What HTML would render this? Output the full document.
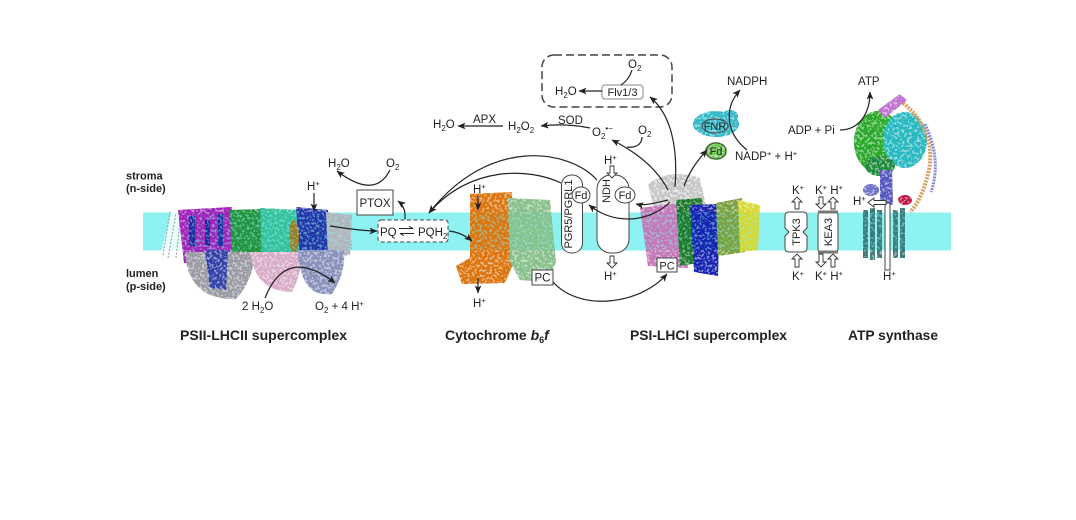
<!DOCTYPE html>
<html>
<head>
<meta charset="utf-8">
<style>
html,body{margin:0;padding:0;background:#fff;}
svg{display:block;}
text{font-family:"Liberation Sans",Arial,sans-serif;fill:#222;}
</style>
</head>
<body>
<svg width="1076" height="520" viewBox="0 0 1076 520" xmlns="http://www.w3.org/2000/svg">
<defs>
  <marker id="ah" markerWidth="9" markerHeight="8" refX="7.5" refY="4" orient="auto" markerUnits="userSpaceOnUse">
    <path d="M0,0.6 L8,4 L0,7.4 L2,4 Z" fill="#222"/>
  </marker>
  <filter id="tx">
    <feTurbulence type="fractalNoise" baseFrequency="0.4" numOctaves="2" seed="7" result="n"/>
    <feColorMatrix in="n" type="matrix" values="0 0 0 0 0  0 0 0 0 0  0 0 0 0 0  9 0 0 0 -3.4" result="m"/>
    <feComposite in="SourceGraphic" in2="m" operator="in"/>
  </filter>

  <!-- PSII-LHCII -->
  <g id="psii">
    <path d="M178,210 L232,207 L234,259 L184,263 Z" fill="#a020b8"/>
    <path d="M230,210 L262,209 L262,258 L232,262 Z" fill="#22923c"/>
    <path d="M260,208 L300,210 L300,256 L262,258 Z" fill="#34c09c"/>
    <path d="M296,207 L328,210 L330,258 L300,261 Z" fill="#2434a8"/>
    <path d="M326,212 L352,215 L350,255 L328,258 Z" fill="#b4b4bc"/>
    <path d="M185,252 Q188,300 236,299 Q252,282 256,252 Z" fill="#9a9aa4"/>
    <path d="M205,250 L228,250 L226,290 L210,288 Z" fill="#3040a8"/>
    <path d="M250,252 Q255,292 292,292 Q302,272 302,252 Z" fill="#d8acc8"/>
    <path d="M298,250 Q300,298 332,294 Q346,272 344,250 Z" fill="#8890bc"/>
    <rect x="189" y="216" width="6" height="30" fill="#1a2aa0"/>
    <rect x="205" y="220" width="5" height="26" fill="#1a2aa0"/>
    <rect x="218" y="214" width="5" height="32" fill="#1a2aa0"/>
    <ellipse cx="294" cy="236" rx="5" ry="16" fill="#9a7a20"/>
  </g>

  <!-- Cyt b6f -->
  <g id="cyt">
    <path d="M470,194 L512,192 L514,262 L505,283 L462,284 L456,266 L470,258 Z" fill="#dc7410"/>
    <path d="M508,198 L550,200 L556,262 L548,282 L520,280 L510,262 Z" fill="#88c08c"/>
  </g>

  <!-- PSI-LHCI -->
  <g id="psi">
    <path d="M640,208 L686,202 L688,268 L648,266 Z" fill="#c478b8"/>
    <path d="M676,200 L702,198 L704,262 L680,266 Z" fill="#1c7a2c"/>
    <path d="M690,205 L720,204 L718,276 L694,272 Z" fill="#1424b0"/>
    <path d="M716,203 L742,198 L745,252 L718,256 Z" fill="#7aa040"/>
    <path d="M738,200 L760,205 L758,250 L740,252 Z" fill="#d8d830"/>
  </g>
  <g id="psitop">
    <path d="M648,184 Q670,168 700,178 L706,206 L654,210 Z" fill="#bdbdbd"/>
  </g>

  <!-- FNR/Fd -->
  <g id="fnr">
    <ellipse cx="716" cy="124" rx="23" ry="13" fill="#30b8c8"/>
    <ellipse cx="730" cy="116" rx="8" ry="6" fill="#30b8c8"/>
    <ellipse cx="716" cy="151" rx="11" ry="9" fill="#6cc850"/>
  </g>

  <!-- ATP synthase -->
  <g id="atp">
    <ellipse cx="878" cy="142" rx="24" ry="31" fill="#2aa82a"/>
    <ellipse cx="905" cy="140" rx="22" ry="28" fill="#28b8c0"/>
    <ellipse cx="880" cy="166" rx="15" ry="10" fill="#1e8a3a"/>
    <path d="M880,170 L892,170 L893,205 L880,205 Z" fill="#5858c0"/>
    <path d="M878,110 L900,94 L907,100 L885,118 Z" fill="#c070d0"/>
    <ellipse cx="871" cy="190" rx="8" ry="6" fill="#7070c8"/>
    <ellipse cx="905" cy="200" rx="7" ry="5" fill="#c01840"/>
  </g>
  <g id="cring" fill="#3a7a7a">
    <rect x="863" y="210" width="5" height="48"/>
    <rect x="870" y="208" width="5" height="52"/>
    <rect x="877" y="210" width="5" height="48"/>
    <rect x="893" y="210" width="5" height="48"/>
    <rect x="900" y="208" width="5" height="50"/>
  </g>
</defs>

<!-- membrane -->
<rect x="143" y="212.5" width="808" height="38" fill="#8ff2f2"/>

<!-- PSII ghost helices -->
<path d="M160,256 L172,210 L186,210 L183,262 Z" fill="#fff" opacity="0.8"/>
<g stroke="#999" stroke-width="1" fill="none" stroke-dasharray="2 1.5">
  <path d="M163,255 L170,212"/><path d="M168,258 L176,213"/><path d="M176,258 L181,214"/>
  <path d="M340,214 L346,254"/><path d="M347,216 L352,250"/>
</g>

<!-- proteins: base + speckle -->
<use href="#psii" opacity="0.5"/><use href="#psii" filter="url(#tx)"/>
<use href="#cyt" opacity="0.5"/><use href="#cyt" filter="url(#tx)"/>
<use href="#psitop" opacity="0.3"/><use href="#psitop" filter="url(#tx)" opacity="0.8"/>
<use href="#psi" opacity="0.5"/><use href="#psi" filter="url(#tx)"/>
<use href="#fnr" opacity="0.5"/><use href="#fnr" filter="url(#tx)"/>
<use href="#atp" opacity="0.5"/><use href="#atp" filter="url(#tx)"/>
<use href="#cring" opacity="0.5"/><use href="#cring" filter="url(#tx)"/>
<g fill="none">
  <path d="M903,103 Q936,130 929,170 Q922,200 910,212" stroke="#d8a060" stroke-width="4" stroke-dasharray="2 1.2"/>
  <path d="M925,124 Q942,160 931,192" stroke="#8888d8" stroke-width="3" stroke-dasharray="2 1"/>
</g>

<!-- side labels -->
<g font-weight="bold" font-size="11">
  <text x="126" y="179.5">stroma</text>
  <text x="126" y="192">(n-side)</text>
  <text x="126" y="277">lumen</text>
  <text x="126" y="290">(p-side)</text>
</g>

<!-- titles -->
<g font-weight="bold" font-size="14">
  <text x="180" y="340" textLength="167" lengthAdjust="spacingAndGlyphs">PSII-LHCII supercomplex</text>
  <text x="445" y="340">Cytochrome <tspan font-style="italic">b</tspan><tspan font-size="9" dy="3">6</tspan><tspan dy="-3" font-style="italic">f</tspan></text>
  <text x="630" y="340" textLength="157" lengthAdjust="spacingAndGlyphs">PSI-LHCI supercomplex</text>
  <text x="848" y="340" textLength="90" lengthAdjust="spacingAndGlyphs">ATP synthase</text>
</g>

<!-- boxes -->
<g stroke="#444" stroke-width="1" fill="#fff">
  <rect x="357" y="190" width="36" height="25"/>
  <rect x="378" y="220" width="70" height="22" rx="3" stroke-dasharray="4 2.5"/>
  <rect x="532" y="270" width="21" height="15"/>
  <rect x="657" y="258" width="20" height="14"/>
  <rect x="561.5" y="175" width="21" height="78" rx="10"/>
  <rect x="597" y="175" width="32" height="78" rx="14"/>
  <ellipse cx="581" cy="195" rx="9" ry="8"/>
  <ellipse cx="625" cy="195" rx="10" ry="8"/>
  <path d="M789,212 H803 Q807,212 807,216 V228 L803,232 L807,236 V248 Q807,252 803,252 H789 Q785,252 785,248 V236 L789,232 L785,228 V216 Q785,212 789,212 Z"/>
  <rect x="818" y="212" width="20" height="40" rx="3"/>
  <rect x="602" y="85" width="41" height="14" rx="3" stroke="#888"/>
  <rect x="885" y="203" width="5" height="67"/>
</g>
<rect x="818" y="210.5" width="20" height="3" fill="#777"/>
<rect x="818" y="250.5" width="20" height="3" fill="#777"/>
<rect x="542" y="55" width="130" height="52" rx="12" fill="none" stroke="#444" stroke-width="1.5" stroke-dasharray="8 4"/>
<g fill="none" stroke="#444" stroke-width="1">
  <ellipse cx="715" cy="126" rx="13" ry="7"/>
  <ellipse cx="716" cy="151" rx="10" ry="8"/>
</g>

<!-- hollow arrows -->
<g fill="#fff" stroke="#333" stroke-width="0.9">
  <path d="M610,166 H614 V173 H617 L612,178 L607,173 H610 Z"/>
  <path d="M610,256 H614 V263 H617 L612,268 L607,263 H610 Z"/>
  <path d="M795,209 H799 V202 H802 L797,197 L792,202 H795 Z"/>
  <path d="M795,267 H799 V259 H802 L797,254 L792,259 H795 Z"/>
  <path d="M819,197 H823 V204 H826 L821,209 L816,204 H819 Z"/>
  <path d="M831,209 H835 V202 H838 L833,197 L828,202 H831 Z"/>
  <path d="M819,254 H823 V262 H826 L821,267 L816,262 H819 Z"/>
  <path d="M831,267 H835 V259 H838 L833,254 L828,259 H831 Z"/>
  <path d="M886,200.5 L874,200.5 L874,198 L868,202.5 L874,207 L874,204.5 L886,204.5 Z"/>
</g>

<!-- connectors -->
<g fill="none" stroke="#222" stroke-width="1.2">
  <path d="M390,170 Q375,200 337,171" marker-end="url(#ah)"/>
  <path d="M405,219 Q406,207 398,201" marker-end="url(#ah)"/>
  <path d="M314,193 V211" marker-end="url(#ah)"/>
  <path d="M330,226 C345,228 360,231 377,231" marker-end="url(#ah)"/>
  <path d="M449,231 C458,232 466,236 472,241" marker-end="url(#ah)"/>
  <path d="M265,298 Q286,245 335,283" marker-end="url(#ah)"/>
  <path d="M478,196 V210" marker-end="url(#ah)"/>
  <path d="M478,278 V293" marker-end="url(#ah)"/>
  <path d="M597,180 C570,150 490,135 429,213" marker-end="url(#ah)"/>
  <path d="M561,183 C530,168 470,165 429,213" marker-end="url(#ah)"/>
  <path d="M553,282 C580,312 640,305 667,274" marker-end="url(#ah)"/>
  <path d="M668,190 C655,165 632,150 612,140" marker-end="url(#ah)"/>
  <path d="M642,137 C642,146 633,148 627,147"/>
  <path d="M675,187 C678,150 672,115 650,97" marker-end="url(#ah)"/>
  <path d="M684,186 C690,170 698,160 707,150" marker-end="url(#ah)"/>
  <path d="M668,200 C655,203 645,206 636,204" marker-end="url(#ah)"/>
  <path d="M670,202 C650,222 615,226 589,205" marker-end="url(#ah)"/>
  <path d="M747,150 C728,135 722,110 740,90" marker-end="url(#ah)"/>
  <path d="M840,130 C858,130 870,115 870,92" marker-end="url(#ah)"/>
  <path d="M602,91 H579" marker-end="url(#ah)"/>
  <path d="M632,70 Q629,80 621,85"/>
  <path d="M503,126 H458" marker-end="url(#ah)"/>
  <path d="M590,128 Q565,123 541,126" marker-end="url(#ah)"/>
</g>
<g fill="none" stroke="#222" stroke-width="0.9">
  <path d="M399,228.5 H413 L409,226.3"/>
  <path d="M414,233.5 H400 L404,235.7"/>
</g>

<!-- labels -->
<g font-size="11.5">
  <text x="328" y="167">H<tspan dy="3" font-size="8">2</tspan><tspan dy="-3">O</tspan></text>
  <text x="386" y="167">O<tspan dy="3" font-size="8">2</tspan></text>
  <text x="375" y="207" text-anchor="middle">PTOX</text>
  <text x="307" y="190">H<tspan dy="-4" font-size="7.5">+</tspan></text>
  <text x="380" y="236">PQ</text>
  <text x="418" y="236">PQH<tspan dy="3" font-size="8">2</tspan></text>
  <text x="242" y="310">2 H<tspan dy="3" font-size="8">2</tspan><tspan dy="-3">O</tspan></text>
  <text x="315" y="310">O<tspan dy="3" font-size="8">2</tspan><tspan dy="-3"> + 4 H</tspan><tspan dy="-4" font-size="7.5">+</tspan></text>
  <text x="473" y="193">H<tspan dy="-4" font-size="7.5">+</tspan></text>
  <text x="473" y="307">H<tspan dy="-4" font-size="7.5">+</tspan></text>
  <text x="542.5" y="281.5" text-anchor="middle">PC</text>
  <text x="667" y="269.5" text-anchor="middle" font-size="11">PC</text>
  <text transform="translate(572,214) rotate(-90)" text-anchor="middle" font-size="11">PGR5/PGRL1</text>
  <text transform="translate(610,191) rotate(-90)" text-anchor="middle" font-size="11">NDH</text>
  <text x="581" y="199" text-anchor="middle" font-size="11">Fd</text>
  <text x="625" y="199" text-anchor="middle" font-size="11">Fd</text>
  <text x="604" y="164">H<tspan dy="-4" font-size="7.5">+</tspan></text>
  <text x="604" y="280">H<tspan dy="-4" font-size="7.5">+</tspan></text>
  <text x="715" y="130" text-anchor="middle" font-size="11">FNR</text>
  <text x="716" y="155" text-anchor="middle" font-size="11">Fd</text>
  <text x="727" y="85">NADPH</text>
  <text x="735" y="160">NADP<tspan dy="-4" font-size="7.5">+</tspan><tspan dy="4"> + H</tspan><tspan dy="-4" font-size="7.5">+</tspan></text>
  <text x="858" y="85">ATP</text>
  <text x="788" y="134">ADP + Pi</text>
  <text x="792" y="194">K<tspan dy="-4" font-size="7.5">+</tspan></text>
  <text x="792" y="280">K<tspan dy="-4" font-size="7.5">+</tspan></text>
  <text x="815" y="194">K<tspan dy="-4" font-size="7.5">+</tspan><tspan dy="4"> H</tspan><tspan dy="-4" font-size="7.5">+</tspan></text>
  <text x="815" y="280">K<tspan dy="-4" font-size="7.5">+</tspan><tspan dy="4"> H</tspan><tspan dy="-4" font-size="7.5">+</tspan></text>
  <text transform="translate(800,232) rotate(-90)" text-anchor="middle" font-size="11">TPK3</text>
  <text transform="translate(832,232) rotate(-90)" text-anchor="middle" font-size="11">KEA3</text>
  <text x="853" y="205">H<tspan dy="-4" font-size="7.5">+</tspan></text>
  <text x="883" y="280">H<tspan dy="-4" font-size="7.5">+</tspan></text>
  <text x="433" y="128">H<tspan dy="3" font-size="8">2</tspan><tspan dy="-3">O</tspan></text>
  <text x="473" y="123">APX</text>
  <text x="508" y="130">H<tspan dy="3" font-size="8">2</tspan><tspan dy="-3">O</tspan><tspan dy="3" font-size="8">2</tspan></text>
  <text x="558" y="124">SOD</text>
  <text x="592" y="136">O<tspan dy="3" font-size="8">2</tspan><tspan dy="-8" font-size="8">•−</tspan></text>
  <text x="638" y="134">O<tspan dy="3" font-size="8">2</tspan></text>
  <text x="628" y="68">O<tspan dy="3" font-size="8">2</tspan></text>
  <text x="622.5" y="96" text-anchor="middle" font-size="11">Flv1/3</text>
  <text x="555" y="95">H<tspan dy="3" font-size="8">2</tspan><tspan dy="-3">O</tspan></text>
</g>
</svg>
</body>
</html>
